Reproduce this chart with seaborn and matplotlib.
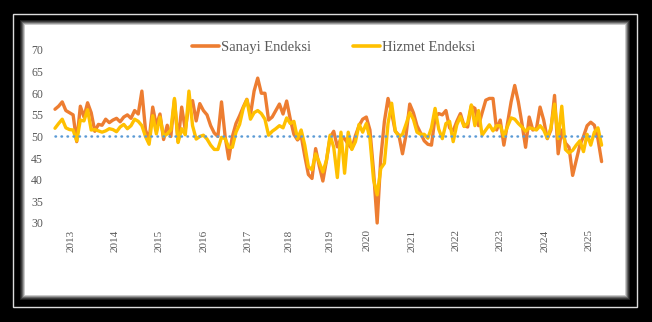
import numpy as np
import pandas as pd
import matplotlib
matplotlib.use("Agg")
import matplotlib.pyplot as plt
import seaborn as sns
from matplotlib.patches import Rectangle
from matplotlib.lines import Line2D

# ---- data (monthly index values) ----
sanayi = [
    56.3, 57.0, 58.0, 56.0, 55.5, 55.0, 48.8, 57.0, 54.5, 57.8,
    55.5, 51.2, 52.8, 52.6, 54.0, 53.2, 53.8, 54.2, 53.4, 54.5,
    55.0, 54.2, 56.0, 55.2, 60.5, 51.5, 49.3, 56.8, 52.5, 55.2,
    49.3, 52.6, 50.0, 58.5, 48.8, 56.8, 51.5, 57.5, 58.3, 53.6,
    57.6, 56.0, 55.0, 52.5, 50.8, 50.0, 58.0, 50.0, 44.8, 50.0,
    53.0, 54.8, 56.8, 58.6, 55.0, 60.5, 63.5, 60.0, 60.0, 53.8,
    54.5, 56.0, 57.5, 55.2, 58.2, 54.0, 50.5, 49.2, 50.2, 45.5,
    41.2, 40.3, 47.2, 43.2, 39.7, 44.5, 49.8, 51.2, 47.6, 49.5,
    49.5, 48.2, 47.2, 50.2, 52.5, 54.0, 54.5, 51.5, 42.0, 30.0,
    45.0, 53.5, 58.8, 55.5, 51.2, 50.3, 46.0, 50.5, 57.5, 55.5,
    52.5, 50.8, 49.0, 48.2, 48.0, 54.5, 55.3, 55.0, 56.0, 52.0,
    51.3, 53.5, 55.3, 52.5, 52.2, 57.0, 56.5, 52.5, 55.5, 58.4,
    58.8, 58.8, 51.5, 53.8, 48.0, 53.0, 58.0, 61.8, 58.0, 53.0,
    47.5, 54.5, 51.5, 51.8, 56.8, 53.8, 49.5, 51.5, 59.5, 46.0,
    51.5, 48.5, 47.5, 41.0, 44.5, 48.0, 50.0, 52.5, 53.3, 52.6,
    49.4, 44.2,
]
hizmet = [
    51.9, 53.0, 54.0, 52.0, 51.6, 51.5, 49.0, 53.8, 53.6, 56.2,
    51.5, 51.6, 51.3, 51.0, 51.3, 51.8, 51.6, 51.1, 52.2, 52.8,
    51.8, 52.5, 54.0, 53.5, 52.5, 50.0, 48.2, 54.8, 50.6, 54.5,
    50.0, 50.6, 51.5, 58.8, 48.6, 51.8, 50.4, 60.5, 52.5, 49.4,
    50.0, 50.3, 49.4, 48.0, 47.0, 47.0, 49.8, 49.5, 47.5, 47.5,
    51.0, 52.8, 56.5, 58.5, 54.0, 55.5, 56.0, 55.3, 54.0, 50.3,
    51.2, 51.8, 52.5, 52.0, 54.3, 53.0, 53.5, 49.5, 51.5, 48.0,
    43.0, 42.3, 46.0, 44.0, 41.8, 44.5, 50.3, 47.5, 40.5, 51.0,
    41.5, 51.0, 47.0, 48.8, 52.8, 51.0, 53.0, 49.5, 40.0, 36.5,
    42.6, 43.8, 53.0, 57.7, 51.3, 50.0, 50.5, 52.9, 55.5, 54.0,
    51.0, 50.5, 50.5, 49.6, 52.0, 56.5, 51.7, 49.5, 53.0, 53.5,
    48.8, 52.7, 54.6, 52.3, 53.1, 57.3, 52.5, 56.0, 50.3, 51.5,
    52.7, 51.3, 52.5, 52.5, 50.0, 52.3, 54.3, 54.0, 53.0, 52.2,
    51.2, 52.0, 51.8, 51.5, 52.5, 51.5, 49.6, 52.0, 57.5, 49.5,
    57.0, 47.0, 46.2, 46.8, 48.0, 49.0, 46.5, 50.5, 48.0, 51.0,
    52.0, 48.0,
]
series_names = ["Sanayi Endeksi", "Hizmet Endeksi"]
year_labels = ["2013", "2014", "2015", "2016", "2017", "2018", "2019",
               "2020", "2021", "2022", "2023", "2024", "2025"]
year_pos = [4.4, 16.6, 28.8, 41.2, 53.4, 64.7, 76.0, 86.1, 98.6, 110.8,
            123.0, 135.4, 147.6]
threshold = 50
y_ticks = [30, 35, 40, 45, 50, 55, 60, 65, 70]

# ---- style ----
sns.set_theme(style="white")
plt.rcParams["font.family"] = ["Liberation Serif", "DejaVu Serif"]
TXT = "#595959"
colors = {"Sanayi Endeksi": "#ED7D31", "Hizmet Endeksi": "#FFC000"}

W, H = 652, 322
fig = plt.figure(figsize=(W / 100, H / 100), dpi=100, facecolor="black")


def rect(x0, y0, x1, y1, **kw):
    r = Rectangle((x0 / W, 1 - y1 / H), (x1 - x0) / W, (y1 - y0) / H,
                  transform=fig.transFigure, zorder=-5, **kw)
    fig.patches.append(r)


# outer thin light frame
rect(13.5, 13.5, 636.5, 306.5, facecolor="black", edgecolor="#dcdcdc", lw=1.0)
# shadowed inner panel
for i, g in enumerate(["#1e1e1e", "#3c3c3c", "#666666", "#999999", "#cccccc"]):
    rect(20 + i, 20 + i, 630 - i, 300 - i, facecolor=g, edgecolor="none")
rect(25, 25, 625, 295, facecolor="white", edgecolor="none")

# ---- axes ----
left, right, top, bottom = 50, 605, 41.35, 227.3
ax = fig.add_axes([left / W, 1 - bottom / H, (right - left) / W, (bottom - top) / H])
ax.set_facecolor("none")
ax.set_zorder(2)

df = pd.DataFrame({"m": np.arange(len(sanayi)),
                   "Sanayi Endeksi": sanayi,
                   "Hizmet Endeksi": hizmet})
long = df.melt(id_vars="m", var_name="seri", value_name="v")
sns.lineplot(data=long, x="m", y="v", hue="seri", hue_order=series_names,
             palette=colors, lw=2.4, ax=ax, legend=False)
ax.plot(df["m"], [threshold] * len(df), color="#5B9BD5", lw=1.8,
        linestyle=(0, (0.2, 2.2)), dash_capstyle="round", zorder=5)

ax.set_xlim(-1.38, 151.94)
ax.set_ylim(29, 72)
ax.set_yticks(y_ticks)
ax.set_yticklabels([str(v) for v in y_ticks], color=TXT, fontsize=8.5)
ax.set_xticks(year_pos)
ax.set_xticklabels(year_labels, rotation=90, color=TXT, fontsize=8, va="top")
ax.tick_params(axis="y", length=0, pad=5)
ax.tick_params(axis="x", length=0, pad=1.5)
ax.set_xlabel("")
ax.set_ylabel("")
for s in ax.spines.values():
    s.set_visible(False)
ax.grid(False)

handles = [Line2D([0], [0], color=colors[n], lw=2.6) for n in series_names]
leg = fig.legend(handles, series_names, loc="center", ncol=2,
                 bbox_to_anchor=(333.5 / W, 1 - 47.5 / H), frameon=False,
                 fontsize=10.5, labelcolor=TXT, handlelength=1.85, handletextpad=0.15,
                 columnspacing=2.9, borderpad=0, borderaxespad=0)
leg.set_zorder(3)

fig.savefig("out.png", dpi=100, facecolor="black")
